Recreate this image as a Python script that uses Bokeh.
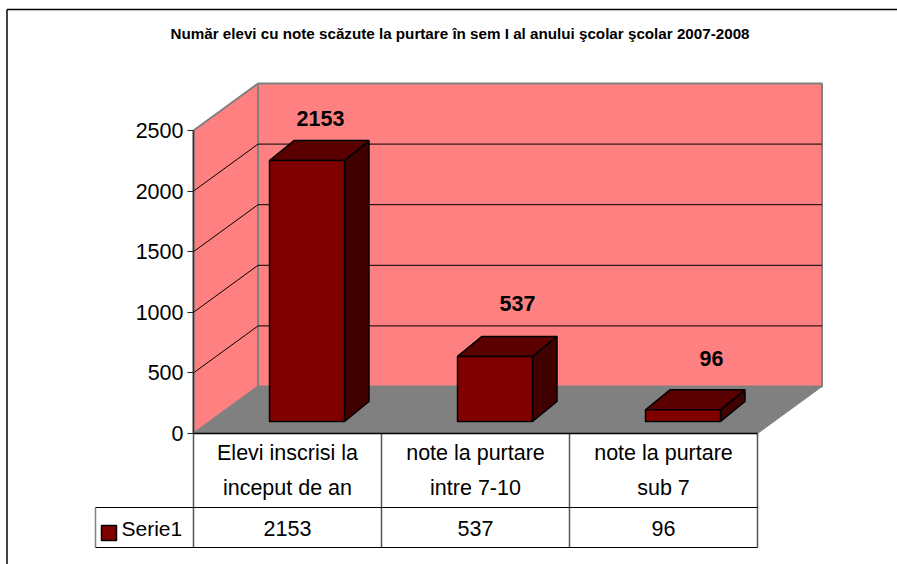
from bokeh.plotting import figure, ColumnDataSource
from bokeh.models import Range1d, LinearAxis, FixedTicker, Label
from bokeh.core.properties import value
from bokeh.embed import file_html
from bokeh.resources import INLINE

# ---- data ----
title_text = "Număr elevi cu note scăzute la purtare în sem I al anului şcolar şcolar 2007-2008"
categories = ["Elevi inscrisi la\ninceput de an", "note la purtare\nintre 7-10", "note la purtare\nsub 7"]
values = [2153, 537, 96]
series_name = "Serie1"
y_ticks = [0, 500, 1000, 1500, 2000, 2500]

# ---- pixel geometry of the drawing ----
W, H = 897, 564
X0, Y0 = 193, 433
CELL = 188
YTOP = 130
FONT = value("Liberation Sans")
def X(px): return (px - X0) / CELL
PXU = (Y0 - YTOP) / 2500
def Y(px): return (Y0 - px) / PXU

n = len(categories)
depth_x = 64.5 / CELL
depth_y = 47 / PXU
bar_dx = 24.5 / CELL
bar_dy = 20 / PXU
bar_left = 76 / CELL
bar_w = 75 / CELL
bar_base = Y(421)
lab_dx = [14, 23, 29]
lab_up = [22, 33, 31]

p = figure(width=W, height=H, output_backend="svg", toolbar_location=None,
           x_range=Range1d(X(0), X(W)), y_range=Range1d(Y(H), Y(0)),
           x_axis_location=None, y_axis_location=None,
           min_border_left=0, min_border_right=0, min_border_top=0, min_border_bottom=0,
           margin=0, outline_line_color=None, background_fill_color="white",
           border_fill_color="white")
p.grid.visible = False

GREY = "#808080"
ymax = y_ticks[-1]
# chart outer border
p.line([X(6.5), X(6.5)], [Y(H + 5), Y(9)], line_color="#444444", line_width=2)
p.line([X(6.5), X(W + 5)], [Y(9), Y(9)], line_color="black", line_width=1.5)
# floor and walls
p.patch([0, n, n + depth_x, depth_x], [0, 0, depth_y, depth_y], fill_color=GREY, line_color=GREY, line_width=1)
p.patch([depth_x, n + depth_x, n + depth_x, depth_x], [depth_y, depth_y, ymax + depth_y, ymax + depth_y],
        fill_color="#FF8080", line_color=GREY, line_width=2)
p.patch([0, depth_x, depth_x, 0], [0, depth_y, ymax + depth_y, ymax],
        fill_color="#FF8080", line_color=GREY, line_width=2)
# grid lines
for t in y_ticks[1:-1]:
    p.line([0, depth_x, n + depth_x], [t, t + depth_y, t + depth_y], line_color="black", line_width=1)
p.line([depth_x, 0], [depth_y, 0], line_color=GREY, line_width=1)

# bars
x0 = [i + bar_left for i in range(n)]
x1 = [a + bar_w for a in x0]
tops = [bar_base + v for v in values]
p.patches([[b, b + bar_dx, b + bar_dx, b] for b in x1],
          [[bar_base, bar_base + bar_dy, t + bar_dy, t] for t in tops],
          fill_color="#400000", line_color="black", line_width=1.5)
p.patches([[a, b, b + bar_dx, a + bar_dx] for a, b in zip(x0, x1)],
          [[t, t, t + bar_dy, t + bar_dy] for t in tops],
          fill_color="#5A0000", line_color="black", line_width=1.5)
p.quad(left=x0, right=x1, bottom=bar_base, top=tops, fill_color="#800000", line_color="black", line_width=1.5)

# value labels above the bars
src = ColumnDataSource(dict(
    x=[i + 0.5 + (19 + d) / CELL for i, d in enumerate(lab_dx)],
    y=[t + bar_dy + d / PXU for t, d in zip(tops, lab_up)],
    t=[str(v) for v in values]))
p.text("x", "y", "t", source=src, text_font=FONT, text_font_style="bold", text_font_size="21.5px",
       text_align="center", text_baseline="alphabetic", text_color="black")

# data table
row1, row2 = Y(507), Y(547)
for i in range(n + 1):
    p.line([i, i], [0, row2], line_color="#555555", line_width=1.5)
p.line([X(95), X(95)], [row1, row2], line_color=GREY, line_width=1.5)
p.line([0, n], [0, 0], line_color="black", line_width=1.5)
p.line([X(95), n], [row1, row1], line_color="black", line_width=1)
p.line([X(95), n], [row2, row2], line_color="black", line_width=1)

cx = [i + 0.5 for i in range(n)]
p.text(cx, [Y(470)] * n, text=categories, text_font=FONT, text_font_size="21.5px", text_align="center",
       text_baseline="middle", text_line_height=1.47, text_color="black")
p.text(cx, [Y(527.5)] * n, text=[str(v) for v in values], text_font=FONT, text_font_size="21.5px",
       text_align="center", text_baseline="middle", text_color="black")

# legend key in the data table
p.quad(left=[X(101)], right=[X(116)], top=[Y(525)], bottom=[Y(540)], fill_color="#800000",
       line_color="black", line_width=1.5)
p.text([X(121)], [Y(528)], text=[series_name], text_font=FONT, text_font_size="21px",
       text_baseline="middle", text_color="black")

# axis
ax = LinearAxis(ticker=FixedTicker(ticks=y_ticks), bounds=(0, ymax), fixed_location=0)
ax.major_label_text_font = "Liberation Sans"
ax.major_label_text_font_size = "21.5px"
ax.major_label_text_color = "black"
ax.major_label_standoff = 4
ax.major_tick_out = 6
ax.major_tick_in = 0
ax.minor_tick_line_color = None
ax.axis_line_color = "#333333"
ax.axis_line_width = 1.5
ax.major_tick_line_color = "#222222"
p.add_layout(ax, "left")

p.add_layout(Label(x=X(459.5), y=Y(33), text=title_text, text_font="Liberation Sans", text_font_size="15.2px",
                   text_font_style="bold", text_align="center", text_baseline="middle", text_color="black"))

open("out.html", "w").write(file_html(p, INLINE))
